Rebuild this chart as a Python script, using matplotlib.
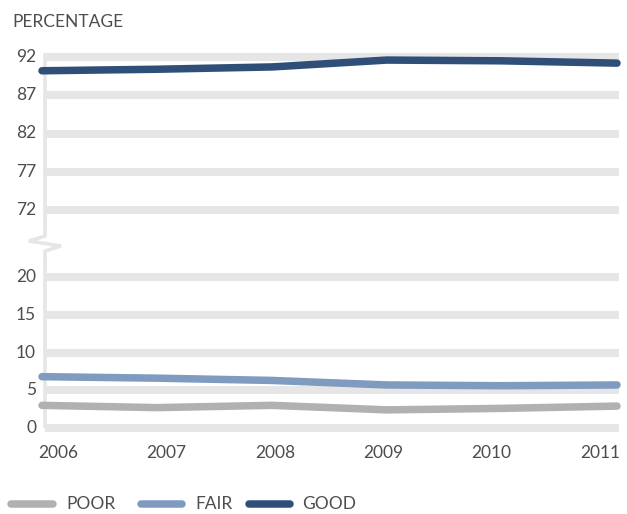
import matplotlib
matplotlib.use("Agg")
import matplotlib.pyplot as plt
from matplotlib.lines import Line2D

years = [2006, 2007, 2008, 2009, 2010, 2011]
good = [90.2, 90.4, 90.7, 91.6, 91.5, 91.2]
fair = [6.8, 6.6, 6.3, 5.7, 5.6, 5.7]
poor = [3.0, 2.7, 3.0, 2.4, 2.6, 2.9]
upper_ticks = [72, 77, 82, 87, 92]
lower_ticks = [0, 5, 10, 15, 20]
series_names = ["POOR", "FAIR", "GOOD"]

C_GOOD = "#2f4f79"
C_FAIR = "#7f9bc0"
C_POOR = "#b0b1b3"
C_GRID = "#e6e6e6"
C_TEXT = "#4d4d4d"
FS = 12.5

plt.rcParams['font.family'] = ['Lato', 'DejaVu Sans']
W, H = 627, 514
fig = plt.figure(figsize=(W / 100, H / 100), dpi=100)

def px_rect(left, top, right, bottom):
    return [left / W, 1 - bottom / H, (right - left) / W, (bottom - top) / H]

# x mapping: 2006 -> 42px, 2011 -> 617px
ppy = (617 - 42) / 5.0
x_left_px, x_right_px = 30, 627
xlim = (2006 - (42 - x_left_px) / ppy, 2011 + (x_right_px - 617) / ppy)
grid_x0 = 2006 + (45 - 42) / ppy
grid_x1 = 2011 + (619 - 617) / ppy

# upper axis: 92 -> 57px, 72 -> 210px
up_top, up_bot = 48, 222
pu = (210 - 57) / 20.0
ylim_up = (72 - (up_bot - 210) / pu, 92 + (57 - up_top) / pu)
# lower axis: 20 -> 277px, 0 -> 428px
lo_top, lo_bot = 262, 436
pl = (428 - 277) / 20.0
ylim_lo = (0 - (lo_bot - 428) / pl, 20 + (277 - lo_top) / pl)

ax_up = fig.add_axes(px_rect(x_left_px, up_top, x_right_px, up_bot))
ax_lo = fig.add_axes(px_rect(x_left_px, lo_top, x_right_px, lo_bot))

lw_grid = 5.8
lw_line = 5.4
for ax, ticks, ylim in [(ax_up, upper_ticks, ylim_up), (ax_lo, lower_ticks, ylim_lo)]:
    ax.set_xlim(*xlim)
    ax.set_ylim(*ylim)
    ax.axis('off')
    ax.hlines(ticks, grid_x0, grid_x1, colors=C_GRID, linewidth=lw_grid, zorder=1)
    for t in ticks:
        ax.text(grid_x0 - 9 / ppy, t, str(t), ha='right', va='center',
                fontsize=FS, color=C_TEXT)

# vertical axis line
ax_up.plot([grid_x0, grid_x0], [ylim_up[0], 92 + 4 / pu], color=C_GRID, lw=2.6,
           solid_capstyle='butt', zorder=1, clip_on=False)
ax_lo.plot([grid_x0, grid_x0], [0, ylim_lo[1]], color=C_GRID, lw=2.6,
           solid_capstyle='butt', zorder=1, clip_on=False)
# zigzag break (figure pixel coords)
zx = [45, 45, 29, 61, 45, 45]
zy = [222, 236, 241, 246, 251, 262]
fig.add_artist(Line2D([x / W for x in zx], [1 - y / H for y in zy], color=C_GRID,
                      lw=2.6, solid_joinstyle='miter'))

ax_up.plot(years, good, color=C_GOOD, lw=lw_line, solid_capstyle='round', zorder=3, clip_on=False)
ax_lo.plot(years, fair, color=C_FAIR, lw=lw_line, solid_capstyle='round', zorder=3, clip_on=False)
ax_lo.plot(years, poor, color=C_POOR, lw=lw_line, solid_capstyle='round', zorder=3, clip_on=False)

# x tick labels (label centres run from 58px to 600px)
lab0 = 2006 + (58 - 42) / ppy
lab1 = 2011 - (617 - 600) / ppy
n = len(years)
for i, y in enumerate(years):
    xp = lab0 + (lab1 - lab0) * i / (n - 1)
    ax_lo.text(xp, ylim_lo[0] - (453 - lo_bot) / pl, str(y), ha='center', va='center',
               fontsize=FS, color=C_TEXT, clip_on=False)

fig.text(12 / W, 1 - 22 / H, "PERCENTAGE", ha='left', va='center', fontsize=FS,
         color=C_TEXT)

# legend
leg_items = [(11, 53, 66, series_names[0], C_POOR),
             (141, 182, 195, series_names[1], C_FAIR),
             (249, 290, 302, series_names[2], C_GOOD)]
ly = 1 - 504 / H
for x0, x1, tx, name, c in leg_items:
    fig.add_artist(Line2D([x0 / W, x1 / W], [ly, ly], color=c, lw=lw_line,
                          solid_capstyle='round'))
    fig.text(tx / W, ly, name, ha='left', va='center', fontsize=FS, color=C_TEXT)

fig.savefig("out.png", dpi=100)
